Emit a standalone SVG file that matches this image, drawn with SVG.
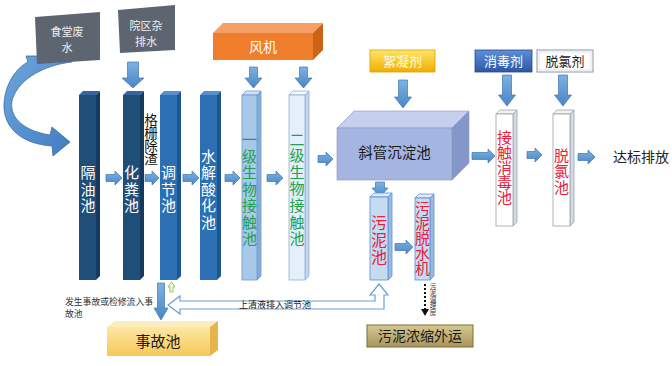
<svg xmlns="http://www.w3.org/2000/svg" width="672" height="366" viewBox="0 0 672 366">
<defs>
<linearGradient id="ag" x1="0" y1="0" x2="0" y2="1"><stop offset="0" stop-color="#7db2e3"/><stop offset="1" stop-color="#4a86c5"/></linearGradient>
<linearGradient id="curl" x1="0" y1="0" x2="1" y2="1"><stop offset="0" stop-color="#6fa6dc"/><stop offset="1" stop-color="#3f7cc0"/></linearGradient>
<linearGradient id="yel" x1="0" y1="0" x2="0" y2="1"><stop offset="0" stop-color="#ffe46b"/><stop offset="1" stop-color="#f0ae00"/></linearGradient>
<linearGradient id="blu" x1="0" y1="0" x2="0" y2="1"><stop offset="0" stop-color="#5e8fd8"/><stop offset="1" stop-color="#2d57a5"/></linearGradient>
<linearGradient id="oli" x1="0" y1="0" x2="0" y2="1"><stop offset="0" stop-color="#d6c892"/><stop offset="1" stop-color="#a8955c"/></linearGradient>
<linearGradient id="acc" x1="0" y1="0" x2="0" y2="1"><stop offset="0" stop-color="#fde7a2"/><stop offset="1" stop-color="#f8c75a"/></linearGradient>
</defs>
<style>
text{font-family:"Noto Sans CJK SC","Noto Sans",sans-serif;}
.v{writing-mode:vertical-rl;}
.w{fill:#ffffff;font-size:15px;}
.g{fill:#20a050;font-size:15px;}
.r{fill:#e8203c;font-size:15px;}
.k{fill:#1a1a1a;text-anchor:middle;}
.arr{fill:url(#ag);stroke:#3f75b0;stroke-width:0.7;}
.navyF{fill:#1f4e79;}.navyT{fill:#3565a0;}.navyS{fill:#163a5e;}
.midF{fill:#2c6fb3;}.midT{fill:#5590d0;}.midS{fill:#1f5590;}
.ltF{fill:#a8c8ea;stroke:#6d9bd0;stroke-width:0.8;}.ltT{fill:#d2e3f5;stroke:#6d9bd0;stroke-width:0.8;}.ltS{fill:#86abd6;stroke:#6d9bd0;stroke-width:0.8;}
.vlF{fill:#e5eff9;stroke:#8fb0d8;stroke-width:0.8;}.vlT{fill:#f5f9fd;stroke:#8fb0d8;stroke-width:0.8;}.vlS{fill:#c2d6ee;stroke:#8fb0d8;stroke-width:0.8;}
.whF{fill:#ffffff;stroke:#9aa4ae;stroke-width:0.8;}.whT{fill:#f2f2f2;stroke:#9aa4ae;stroke-width:0.8;}.whS{fill:#d5dbe2;stroke:#9aa4ae;stroke-width:0.8;}
.sgF{fill:#c5dbf2;stroke:#5b8fd0;stroke-width:0.8;}.sgT{fill:#e0ecf9;stroke:#5b8fd0;stroke-width:0.8;}.sgS{fill:#9dbbe0;stroke:#5b8fd0;stroke-width:0.8;}
</style>
<rect width="672" height="366" fill="#ffffff"/>

<g id="connectors">
  <path d="M74,56 L72,62 C52,64 24,74 14,95 C6,112 18,130 50,135 L52,127 L70,142 L53,156 L52,146 C22,144 3,128 4,104 C5,84 16,68 28,62 L26,56 Z" fill="url(#curl)" stroke="#3a6ea5" stroke-width="0.8"/>
  <path class="arr" d="M127.5,62 H138.5 V78 H144 L133,88 L122,78 H127.5 Z"/>
  <path class="arr" d="M249.5,67 H257.5 V78 H262 L253.5,88 L245,78 H249.5 Z"/>
  <path class="arr" d="M299.5,67 H307.5 V78 H312 L303.5,88 L295,78 H299.5 Z"/>
  <path class="arr" d="M398.5,80 H407.5 V97 H411.5 L403,108 L394.5,97 H398.5 Z"/>
  <path class="arr" d="M502.5,75 H511.5 V95 H515.5 L507,106 L498.5,95 H502.5 Z"/>
  <path class="arr" d="M558.5,75 H567.5 V95 H571.5 L563,106 L554.5,95 H558.5 Z"/>
  <path class="arr" d="M375.5,182 H384.5 V188 H388 L380,197 L372,188 H375.5 Z"/>
  <path class="arr" d="M157.5,283 H164.5 V308 H168 L161,320 L154,308 H157.5 Z"/>
  <path class="arr" d="M106,174.5 H115 V171 L122,178 L115,185 V181.5 H106 Z"/>
  <path class="arr" d="M145,174.5 H152 V171 L159,178 L152,185 V181.5 H145 Z"/>
  <path class="arr" d="M183,174.5 H192 V171 L199,178 L192,185 V181.5 H183 Z"/>
  <path class="arr" d="M225,174.5 H233 V171 L240,178 L233,185 V181.5 H225 Z"/>
  <path class="arr" d="M267,174.5 H276 V171 L283,178 L276,185 V181.5 H267 Z"/>
  <path class="arr" d="M318,155.5 H326 V152 L333,159 L326,166 V162.5 H318 Z"/>
  <path class="arr" d="M472,152.5 H488 V149 L495,156 L488,163 V159.5 H472 Z"/>
  <path class="arr" d="M527,151.5 H535 V148 L542,155 L535,162 V158.5 H527 Z"/>
  <path class="arr" d="M578,153.5 H588 V150 L595,157 L588,164 V160.5 H578 Z"/>
  <path class="arr" d="M395,243.5 H406 V240 L413,247 L406,254 V250.5 H395 Z"/>
  <path d="M168,287 L171.5,282 L175,287 H173 V292 H170 V287 Z" fill="#f4fae8" stroke="#8cc152" stroke-width="0.9"/>
  <path d="M168,305 L180,296 V301 H375 V295 H370 L379,284 L388,295 H384 V309 H180 V314 Z" fill="#ffffff" stroke="#6a9fd4" stroke-width="1.2"/>
  <text class="k" x="275" y="308" font-size="9" fill="#333">上清液排入调节池</text>
  <line x1="425" y1="284" x2="425" y2="309" stroke="#111" stroke-width="2" stroke-dasharray="2,2"/>
  <path d="M421,309 L429,309 L425,316 Z" fill="#111"/>
  <text class="v" x="433" y="283" font-size="6.5" fill="#333">污泥调理房</text>
  <text x="65" y="304.5" font-size="8.8" fill="#333">发生事故或检修流入事</text>
  <text x="65" y="317" font-size="8.8" fill="#333">故池</text>
</g>

<g id="shitang">
  <polygon points="35,17 100,12 100,60 37,64" fill="#5d6570"/>
  <text class="k" x="67" y="36" font-size="11" style="fill:#eef0f2">食堂废</text>
  <text class="k" x="67" y="52" font-size="11" style="fill:#eef0f2">水</text>
</g>
<g id="yuanqu">
  <polygon points="118,10 175,5 175,50 120,53" fill="#5d6570"/>
  <text class="k" x="146" y="30" font-size="11" style="fill:#eef0f2">院区杂</text>
  <text class="k" x="146" y="46" font-size="11" style="fill:#eef0f2">排水</text>
</g>

<g id="fengji">
  <polygon points="213,33 223,23 323,23 313,33" fill="#f5a066"/>
  <polygon points="313,33 323,23 323,50 313,60" fill="#cc6418"/>
  <rect x="213" y="33" width="100" height="27" fill="#ef7d2c"/>
  <text class="k" x="263" y="52" font-size="14" style="fill:#ffffff">风机</text>
</g>

<g id="geyou">
  <polygon class="navyT" points="79,95 83,91 100,91 96,95"/>
  <polygon class="navyS" points="96,95 100,91 100,276 96,280"/>
  <rect class="navyF" x="79" y="95" width="17" height="185"/>
  <text class="w v" x="88" y="165.2 181.7 198.2">隔油池</text>
</g>
<g id="huafen">
  <polygon class="navyT" points="123,95 127,91 144,91 140,95"/>
  <polygon class="navyS" points="140,95 144,91 144,276 140,280"/>
  <rect class="navyF" x="123" y="95" width="17" height="185"/>
  <text class="w v" x="131.5" y="165.2 181.7 197.7">化粪池</text>
</g>
<g id="geshan">
  <text class="v" x="151" y="113.5 126.5 139.5 152.5" font-size="13.5" fill="#111">格栅除渣</text>
</g>
<g id="tiaojie">
  <polygon class="midT" points="160,95 164,91 181,91 177,95"/>
  <polygon class="midS" points="177,95 181,91 181,276 177,280"/>
  <rect class="midF" x="160" y="95" width="17" height="185"/>
  <text class="w v" x="168.5" y="165.2 181.7 198.2">调节池</text>
</g>
<g id="shuijie">
  <polygon class="midT" points="200,95 204,91 221,91 217,95"/>
  <polygon class="midS" points="217,95 221,91 221,276 217,280"/>
  <rect class="midF" x="200" y="95" width="17" height="185"/>
  <text class="w v" x="208.5" y="148.5 165 181.5 198 214.5">水解酸化池</text>
</g>
<g id="yiji">
  <polygon class="ltT" points="242,95 246,91 261,91 257,95"/>
  <polygon class="ltS" points="257,95 261,91 261,276 257,280"/>
  <rect class="ltF" x="242" y="95" width="15" height="185"/>
  <text class="g v" x="249.5" y="132 148.5 165 181.5 198 214.5 231">一级生物接触池</text>
</g>
<g id="erji">
  <polygon class="vlT" points="289,95 293,91 309,91 305,95"/>
  <polygon class="vlS" points="305,95 309,91 309,276 305,280"/>
  <rect class="vlF" x="289" y="95" width="16" height="185"/>
  <text class="g v" x="297" y="131.5 148 164.5 181 198 214.5 231">二级生物接触池</text>
</g>

<g id="xuning">
  <rect x="370" y="50" width="65" height="22" fill="url(#yel)" stroke="#d9a400" stroke-width="0.8"/>
  <text class="k" x="402.5" y="66" font-size="13" style="fill:#fffbe6">絮凝剂</text>
</g>
<g id="xieguan">
  <polygon points="337,128 354,111 469,111 452,128" fill="#c5d0ee" stroke="#8797c8" stroke-width="0.6"/>
  <polygon points="452,128 469,111 469,163 452,180" fill="#8497c9" stroke="#8797c8" stroke-width="0.6"/>
  <rect x="337" y="128" width="115" height="52" fill="#a3b5e0" stroke="#8797c8" stroke-width="0.6"/>
  <text class="k" x="394.5" y="158" font-size="14.5">斜管沉淀池</text>
</g>

<g id="xiaoduji">
  <rect x="475" y="50" width="57" height="22" fill="url(#blu)" stroke="#24488a" stroke-width="0.8"/>
  <text class="k" x="503.5" y="66" font-size="13" style="fill:#ffffff">消毒剂</text>
</g>
<g id="tuolvji">
  <rect x="537" y="50" width="56" height="22" fill="#ffffff" stroke="#8a96a3" stroke-width="1"/>
  <rect x="539" y="52" width="52" height="18" fill="none" stroke="#c9d0d8" stroke-width="0.6"/>
  <text class="k" x="565" y="66" font-size="13">脱氯剂</text>
</g>
<g id="jiechu">
  <polygon class="whT" points="496,114 500,110 517,110 513,114"/>
  <polygon class="whS" points="513,114 517,110 517,222 513,226"/>
  <rect class="whF" x="496" y="114" width="17" height="112"/>
  <text class="r v" x="504.5" y="129.5 144.5 159.5 174.5 189.5">接触消毒池</text>
</g>
<g id="tuolv">
  <polygon class="whT" points="553,114 557,110 574,110 570,114"/>
  <polygon class="whS" points="570,114 574,110 574,222 570,226"/>
  <rect class="whF" x="553" y="114" width="17" height="112"/>
  <text class="r v" x="561.5" y="147.5 163.5 179.5">脱氯池</text>
</g>
<g id="dabiao">
  <text x="613" y="162" font-size="14" fill="#222">达标排放</text>
</g>

<g id="wunichi">
  <polygon class="sgT" points="370,197 374,193 392,193 388,197"/>
  <polygon class="sgS" points="388,197 392,193 392,276 388,280"/>
  <rect class="sgF" x="370" y="197" width="18" height="83"/>
  <text class="r v" x="379" y="215 232 249" style="font-size:16px">污泥池</text>
</g>
<g id="tuoshui">
  <polygon class="sgT" points="415,198 419,194 434,194 430,198"/>
  <polygon class="sgS" points="430,198 434,194 434,276 430,280"/>
  <rect class="sgF" x="415" y="198" width="15" height="82"/>
  <text class="r v" x="422.5" y="200.5 215.5 230.5 245.5 260.5">污泥脱水机</text>
</g>
<g id="nongsuo">
  <rect x="367" y="325" width="106" height="22" fill="url(#oli)" stroke="#7d6d3a" stroke-width="1"/>
  <text class="k" x="420" y="341" font-size="14">污泥浓缩外运</text>
</g>

<g id="shiguchi">
  <polygon points="107,327 115,321 218,321 210,327" fill="#fdedbc"/>
  <polygon points="210,327 218,321 218,350 210,356" fill="#e6b44c"/>
  <rect x="107" y="327" width="103" height="29" fill="url(#acc)"/>
  <text class="k" x="158" y="347" font-size="15">事故池</text>
</g>
</svg>
